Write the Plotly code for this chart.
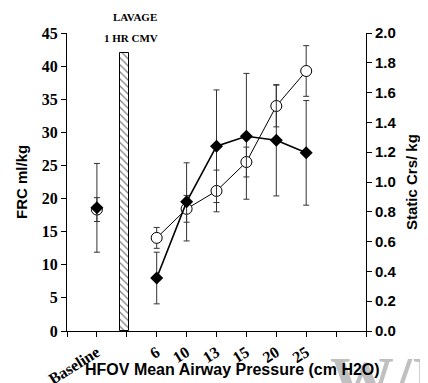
import plotly.graph_objects as go

# ---- data ----
tick_positions = [0, 1, 2, 3, 4, 5, 6, 7, 8, 9, 10]
tick_labels = ["", "Baseline", "", "6", "10", "13", "15", "20", "25", "", ""]

baseline_x = [1]
frc_baseline = [18.6]
frc_baseline_err = [6.7]
crs_baseline = [0.815]
crs_baseline_err = [0.08]

hfov_x = [3, 4, 5, 6, 7, 8]
frc_hfov = [8.0, 19.5, 27.9, 29.4, 28.8, 26.9]
frc_hfov_err = [3.9, 5.9, 8.5, 9.5, 8.4, 7.9]
crs_hfov = [0.625, 0.82, 0.94, 1.134, 1.51, 1.745]
crs_hfov_err = [0.07, 0.09, 0.14, 0.10, 0.14, 0.17]

lavage_x = [1.92]
lavage_height = [42]

# ---- figure ----
fig = go.Figure()

err_style = dict(type="data", thickness=1, width=3, color="#333333")

# Static Crs (open circles), right axis (primary y)
fig.add_trace(go.Scatter(
    x=baseline_x, y=crs_baseline, mode="markers", yaxis="y",
    error_y=dict(array=crs_baseline_err, **err_style),
    marker=dict(symbol="circle", size=11, color="white",
                line=dict(color="black", width=1)),
    showlegend=False))
fig.add_trace(go.Scatter(
    x=hfov_x, y=crs_hfov, mode="lines+markers", yaxis="y",
    line=dict(color="black", width=1),
    error_y=dict(array=crs_hfov_err, **err_style),
    marker=dict(symbol="circle", size=11, color="white",
                line=dict(color="black", width=1)),
    showlegend=False))

# Lavage bar (left axis)
fig.add_trace(go.Bar(
    x=lavage_x, y=lavage_height, width=0.3, yaxis="y2",
    marker=dict(color="white", line=dict(color="black", width=1),
                pattern=dict(shape="\\", fgcolor="black", bgcolor="white",
                             size=5, solidity=0.25)),
    showlegend=False))

# FRC (filled diamonds), left axis (overlaying, drawn on top)
fig.add_trace(go.Scatter(
    x=baseline_x, y=frc_baseline, mode="markers", yaxis="y2",
    error_y=dict(array=frc_baseline_err, **err_style),
    marker=dict(symbol="diamond", size=10, color="black"),
    showlegend=False))
fig.add_trace(go.Scatter(
    x=hfov_x, y=frc_hfov, mode="lines+markers", yaxis="y2",
    line=dict(color="black", width=1.6),
    error_y=dict(array=frc_hfov_err, **err_style),
    marker=dict(symbol="diamond", size=10, color="black"),
    showlegend=False))

serif_bold = "Liberation Serif"
sans_bold = "Liberation Sans"

# page body adds an 8px offset, so the figure is 8px smaller than the window
fig.update_layout(
    width=420, height=375,
    margin=dict(l=59, r=62, t=25, b=52, autoexpand=False),
    paper_bgcolor="white", plot_bgcolor="white",
    bargap=0,
    xaxis=dict(
        range=[0, 10], tickvals=tick_positions, ticktext=tick_labels,
        tickangle=-32, ticks="outside", ticklen=5, tickcolor="black",
        showline=True, linecolor="black", linewidth=1,
        showgrid=False, zeroline=False, automargin=False,
        tickfont=dict(family=serif_bold, size=16, color="black", weight="bold"),
    ),
    yaxis=dict(
        side="right", range=[0, 2], dtick=0.2, tickformat=".1f",
        ticks="outside", ticklen=5, tickcolor="black",
        showline=True, linecolor="black", linewidth=1,
        showgrid=False, zeroline=False, automargin=False,
        tickfont=dict(family=sans_bold, size=15, color="black", weight="bold"),
    ),
    yaxis2=dict(
        side="left", overlaying="y", range=[0, 45], dtick=5,
        ticks="outside", ticklen=5, tickcolor="black",
        showline=True, linecolor="black", linewidth=1,
        showgrid=False, zeroline=False, automargin=False,
        tickfont=dict(family=serif_bold, size=16, color="black", weight="bold"),
    ),
)

annotations = [
    # watermark
    dict(text="W/I", xref="paper", yref="paper", x=1, y=0, xanchor="left",
         yanchor="top", xshift=-38, yshift=-11, showarrow=False,
         font=dict(family=serif_bold, size=64, color="#c0c0c0", weight="bold")),
    dict(text="HFOV Mean Airway Pressure (cm H2O)", xref="paper", yref="paper",
         x=0.555, y=0, yshift=-38, xanchor="center", yanchor="middle",
         showarrow=False,
         font=dict(family=sans_bold, size=16, color="black", weight="bold")),
    dict(text="FRC ml/kg", xref="paper", yref="paper", x=0, y=0.5,
         xshift=-46, textangle=-90, xanchor="center", yanchor="middle",
         showarrow=False,
         font=dict(family=sans_bold, size=15, color="black", weight="bold")),
    dict(text="Static Crs/ kg", xref="paper", yref="paper", x=1, y=0.5,
         xshift=45, textangle=-90, xanchor="center", yanchor="middle",
         showarrow=False,
         font=dict(family=sans_bold, size=15, color="black", weight="bold")),
    dict(text="LAVAGE", xref="paper", yref="paper", x=0.227, y=1,
         yshift=16, xanchor="center", yanchor="middle", showarrow=False,
         font=dict(family=serif_bold, size=11, color="black", weight="bold")),
    dict(text="1 HR CMV", xref="paper", yref="paper", x=0.214, y=1,
         yshift=-4.5, xanchor="center", yanchor="middle", showarrow=False,
         font=dict(family=serif_bold, size=11, color="black", weight="bold")),
]
fig.update_layout(annotations=annotations)

fig.write_html("out.html")
